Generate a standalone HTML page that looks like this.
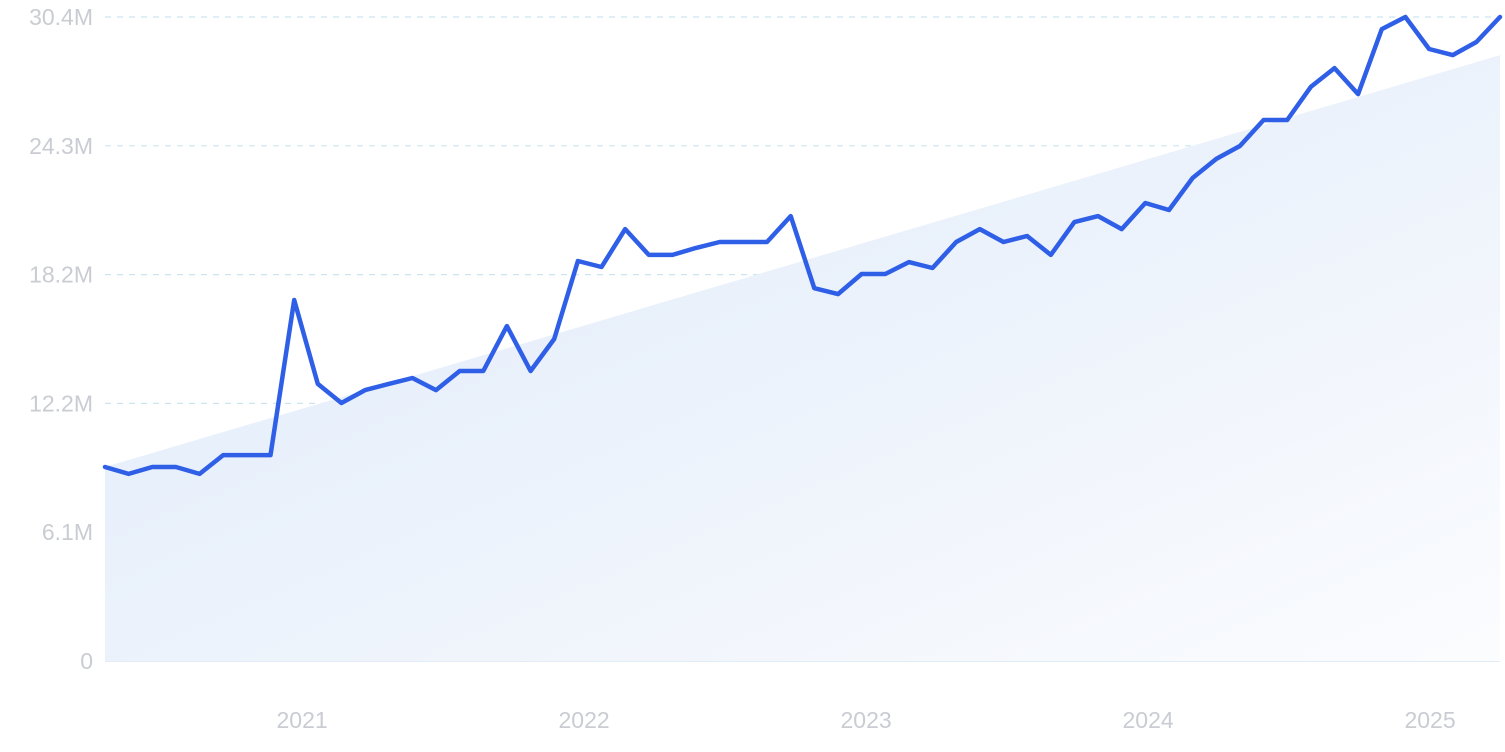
<!DOCTYPE html>
<html><head><meta charset="utf-8">
<style>
html,body{margin:0;padding:0;background:#fff;}
svg{display:block;font-family:"Liberation Sans",sans-serif;}
</style></head>
<body>
<svg id="chart" width="1505" height="752" viewBox="0 0 1505 752">
<defs>
<linearGradient id="trendGrad" x1="0" y1="0" x2="1" y2="1">
<stop offset="0" stop-color="#dde9f9"/>
<stop offset="1" stop-color="#fbfcfe"/>
</linearGradient>
</defs>
<g id="grid"></g>
<g id="yaxis"></g>
<g id="xaxis"></g>
<g id="plot"></g>
</svg>
<script>
const values = [9.16,8.83,9.16,9.16,8.83,9.72,9.72,9.72,17.04,13.08,12.18,12.79,13.08,13.36,12.79,13.69,13.69,15.81,13.69,15.2,18.88,18.6,20.39,19.17,19.17,19.5,19.78,19.78,19.78,21.0,17.6,17.32,18.27,18.27,18.83,18.55,19.78,20.39,19.78,20.06,19.17,20.72,21.0,20.39,21.62,21.29,22.8,23.7,24.31,25.54,25.54,27.1,27.99,26.76,29.83,30.4,28.89,28.6,29.22,30.4];
const trendValues = [9.16, 28.6];
const yTicks = [0, 6.08, 12.16, 18.24, 24.32, 30.4];
const yTickLabels = ["0","6.1M","12.2M","18.2M","24.3M","30.4M"];
const xYears = [2021, 2022, 2023, 2024, 2025];
const dateRange = [2020.301, 2025.248];

const X0=105, X1=1500, Y0=661, Y1=17, YMAX=30.4;
const n = values.length;
function xIdx(i){return X0 + (X1-X0)*i/(n-1);}
function xYear(t){return X0 + (X1-X0)*(t-dateRange[0])/(dateRange[1]-dateRange[0]);}
function y(v){return Y0 - (Y0-Y1)*v/YMAX;}
const NS="http://www.w3.org/2000/svg";
function mk(tag, attrs, parent){const e=document.createElementNS(NS,tag);for(const k in attrs)e.setAttribute(k,attrs[k]);parent.appendChild(e);return e;}

const grid=document.getElementById('grid'), ya=document.getElementById('yaxis'), xa=document.getElementById('xaxis'), plot=document.getElementById('plot');

const area = mk('polygon',{points:`${X0},${Y0} ${X0},${y(trendValues[0])} ${X1},${y(trendValues[1])} ${X1},${Y0}`,fill:'url(#trendGrad)'},plot);



yTicks.forEach((v,i)=>{
  if(i>0){
    const l=mk('line',{x1:X0,x2:X1,y1:y(v),y2:y(v),stroke:'#cbe5f0','stroke-width':1.2,'stroke-dasharray':'6,6'},grid);
    
    
  }
  const t=mk('text',{x:93,y:y(v)+8,'text-anchor':'end','font-size':23,fill:'#c9ccd2'},ya);
  t.textContent=yTickLabels[i];
  
  
});
const base=mk('line',{x1:X0,x2:X1,y1:Y0,y2:Y0,stroke:'#d8e6f3','stroke-width':1.5},grid);



xYears.forEach(yr=>{
  const t=mk('text',{x:xYear(yr),y:728,'text-anchor':'middle','font-size':23,fill:'#c9ccd2'},xa);
  t.textContent=yr;
  
  
});

const pts=values.map((v,i)=>`${xIdx(i).toFixed(1)},${y(v).toFixed(1)}`).join(' ');
const line=mk('polyline',{points:pts,fill:'none',stroke:'#2f5fe6','stroke-width':4.5,'stroke-linejoin':'round','stroke-linecap':'round'},plot);


</script>
</body></html>
